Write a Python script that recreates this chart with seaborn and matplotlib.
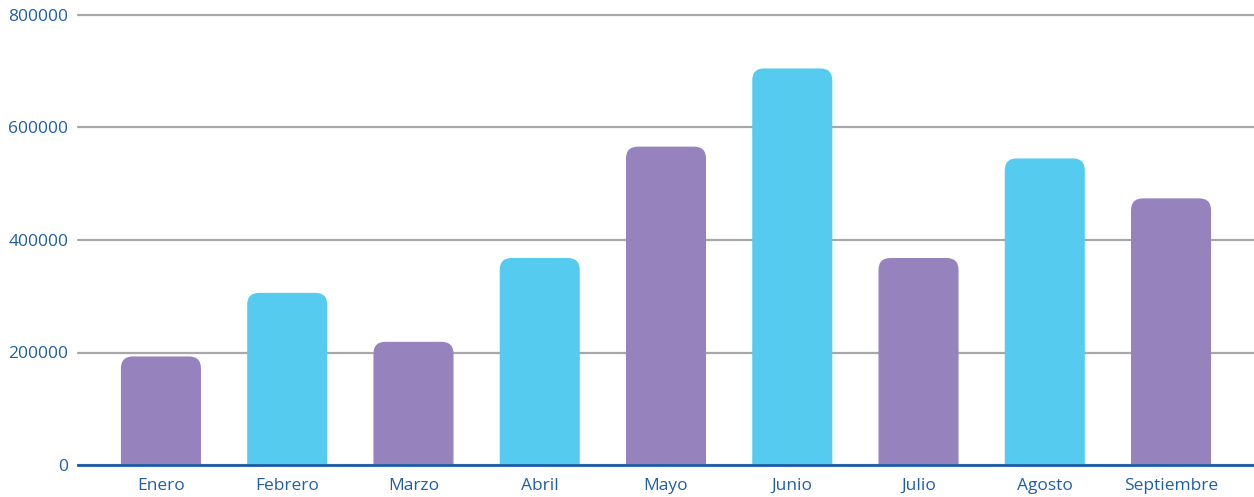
import pandas as pd
import seaborn as sns
import matplotlib
matplotlib.use("Agg")
import matplotlib.pyplot as plt
from matplotlib.patches import FancyBboxPatch

# Data
meses = ['Enero', 'Febrero', 'Marzo', 'Abril', 'Mayo', 'Junio', 'Julio', 'Agosto', 'Septiembre']
valores = [193000, 306000, 219000, 368000, 566000, 705000, 368000, 545000, 474000]
colores = ['#9683BE', '#55CBEF', '#9683BE', '#55CBEF', '#9683BE', '#55CBEF', '#9683BE', '#55CBEF', '#9683BE']

data = pd.DataFrame({'mes': meses, 'valor': valores})

sns.set_style("white")
plt.rcParams['font.family'] = ['Open Sans', 'DejaVu Sans']

fig = plt.figure(figsize=(12.54, 4.97), dpi=100)
ax = fig.add_axes([78 / 1254, 1 - 465 / 497, 1 - 78 / 1254, 450 / 497])

sns.barplot(data=data, x='mes', y='valor', hue='mes', palette=colores,
            legend=False, width=0.634, ax=ax, saturation=1)

ax.set_ylim(0, 800000)
ax.set_xlim(-0.657, len(meses) - 1 + 0.657)

# swap plain bars for bars with rounded top corners
r = 0.095
aspect = 21333 / r
for p in list(ax.patches):
    x, w, h = p.get_x(), p.get_width(), p.get_height()
    fc = p.get_facecolor()
    p.remove()
    ax.add_patch(FancyBboxPatch((x, -40000), w, h + 40000,
                                boxstyle=f"round,pad=0,rounding_size={r}",
                                mutation_aspect=aspect, fc=fc, ec='none',
                                zorder=2, clip_on=True))

ax.set_yticks([0, 200000, 400000, 600000, 800000])
ax.yaxis.grid(True, color='#A8A8AC', linewidth=1.6, zorder=0)
ax.set_axisbelow(True)
for gl in ax.get_ygridlines():
    gl.set_clip_on(False)
for s in ['top', 'right', 'left']:
    ax.spines[s].set_visible(False)
ax.spines['bottom'].set_color('#1C5CA8')
ax.spines['bottom'].set_linewidth(2)
ax.spines['bottom'].set_zorder(3)

ax.tick_params(axis='both', length=0, labelsize=12.5, labelcolor='#1F5FA8')
ax.tick_params(axis='y', pad=7)
ax.tick_params(axis='x', pad=9)
ax.set_xlabel('')
ax.set_ylabel('')

fig.savefig('out.png', dpi=100)
